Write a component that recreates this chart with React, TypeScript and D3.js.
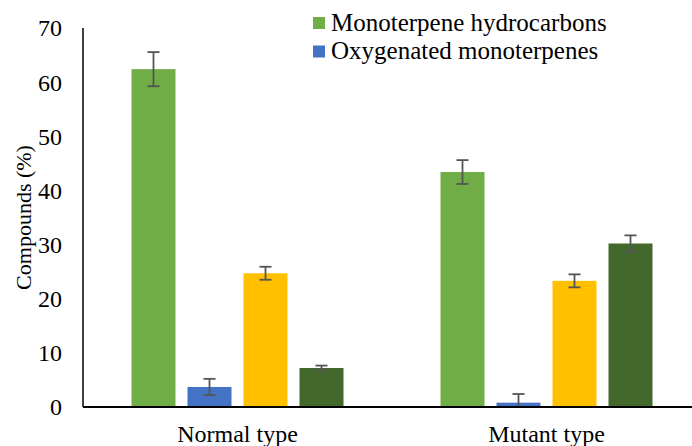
import React from "react";
import * as d3 from "d3";

const categories = ["Normal type", "Mutant type"];
const seriesNames = [
  "Monoterpene hydrocarbons",
  "Oxygenated monoterpenes",
  "Sesquiterpene hydrocarbons",
  "Oxygenated sesquiterpenes",
];
const seriesColors = ["#70AD47", "#4472C4", "#FFC000", "#43682B"];
const normalValues = [62.4, 3.7, 24.7, 7.2];
const normalErrors = [3.15, 1.5, 1.2, 0.45];
const mutantValues = [43.4, 0.8, 23.3, 30.2];
const mutantErrors = [2.2, 1.6, 1.2, 1.5];
const yTicks = [0, 10, 20, 30, 40, 50, 60, 70];
const legendEntries = [0, 1];

const W = 692;
const H = 446;

function T(props: any) {
  const { size, children, ...rest } = props;
  return (
    <text {...rest} fill="#000" style={{ fontFamily: "Liberation Serif", fontSize: size }}>
      {children}
    </text>
  );
}

export default function App() {
  const left = 83;
  const top = 28;
  const bottom = 407;
  const x0 = d3.scaleBand<string>().domain(categories).range([left, 701]).padding(0);
  const x1 = d3
    .scaleBand<string>()
    .domain(seriesNames)
    .range([-106, 106])
    .paddingInner(12 / 56)
    .paddingOuter(0);
  const y = d3.scaleLinear().domain([0, 70]).range([bottom, top]);

  const rows = [
    { cat: categories[0], values: normalValues, errors: normalErrors },
    { cat: categories[1], values: mutantValues, errors: mutantErrors },
  ];

  return (
    <svg width={W} height={H} style={{ position: "absolute", left: 0, top: 0, display: "block", background: "#fff" }}>
      <rect x={0} y={0} width={W} height={H} fill="#fff" />
      {yTicks.map((t) => (
        <T key={t} x={62} y={y(t)} dy="0.35em" textAnchor="end" size={24}>
          {t}
        </T>
      ))}
      <T transform={`translate(31,${(top + bottom) / 2}) rotate(-90)`} textAnchor="middle" size={22}>
        Compounds (%)
      </T>
      {rows.map((r) => {
        const cx = (x0(r.cat) as number) + x0.bandwidth() / 2;
        return (
          <g key={r.cat}>
            {r.values.map((v, i) => {
              const bx = cx + (x1(seriesNames[i]) as number);
              const bw = x1.bandwidth();
              const mid = bx + bw / 2;
              const hi = v + r.errors[i];
              const lo = Math.max(0, v - r.errors[i]);
              return (
                <g key={i}>
                  <rect x={bx} y={y(v)} width={bw} height={y(0) - y(v)} fill={seriesColors[i]} />
                  <line x1={mid} x2={mid} y1={y(hi)} y2={y(lo)} stroke="#555" strokeWidth={1.8} />
                  <line x1={mid - 6} x2={mid + 6} y1={y(hi)} y2={y(hi)} stroke="#555" strokeWidth={1.8} />
                  {v - r.errors[i] > 0 && (
                    <line x1={mid - 6} x2={mid + 6} y1={y(lo)} y2={y(lo)} stroke="#555" strokeWidth={1.8} />
                  )}
                </g>
              );
            })}
          </g>
        );
      })}
      <line x1={left} x2={left} y1={top} y2={bottom} stroke="#000" strokeWidth={1.5} />
      <line x1={left} x2={W} y1={bottom} y2={bottom} stroke="#000" strokeWidth={1.8} />
      {categories.map((c) => (
        <T key={c} x={(x0(c) as number) + x0.bandwidth() / 2} y={442} textAnchor="middle" size={24}>
          {c}
        </T>
      ))}
      {legendEntries.map((i, k) => (
        <g key={i} transform={`translate(313,${17 + k * 28.5})`}>
          <rect x={0} y={0} width={12} height={12} fill={seriesColors[i]} />
          <T x={18} y={13.5} size={25}>
            {seriesNames[i]}
          </T>
        </g>
      ))}
    </svg>
  );
}
